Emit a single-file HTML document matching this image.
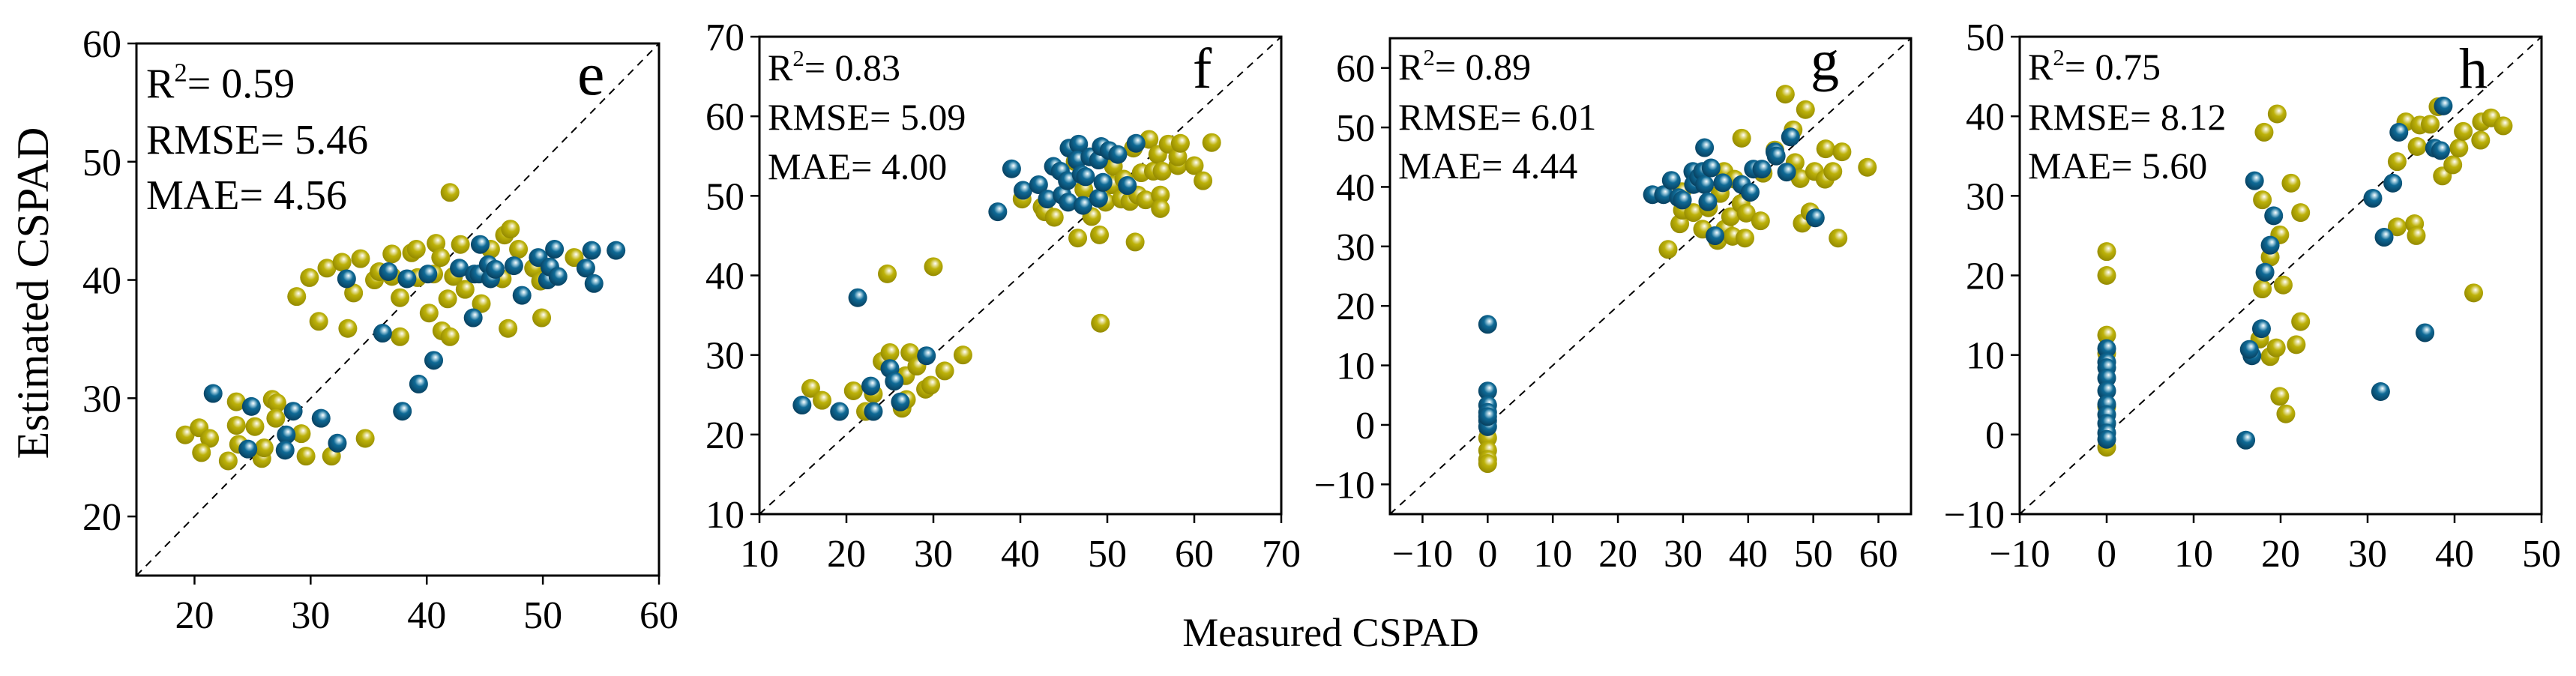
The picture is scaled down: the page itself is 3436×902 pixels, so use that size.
<!DOCTYPE html>
<html><head><meta charset="utf-8"><style>
html,body{margin:0;padding:0;background:#fff;}
svg{display:block;}
text,tspan{font-family:'Liberation Serif','Times New Roman',Times,serif !important;}
</style></head><body>
<svg id="chart" width="3436" height="902" viewBox="0 0 3436 902" xmlns="http://www.w3.org/2000/svg">
<defs>
<radialGradient id="gBlue" cx="0.55" cy="0.4" r="0.6" fx="0.6" fy="0.33">
<stop offset="0" stop-color="#ffffff"/><stop offset="0.18" stop-color="#9cc9dc"/><stop offset="0.45" stop-color="#0f6a96"/><stop offset="1" stop-color="#08405f"/></radialGradient>
<radialGradient id="gYel" cx="0.55" cy="0.4" r="0.6" fx="0.6" fy="0.33">
<stop offset="0" stop-color="#ffffff"/><stop offset="0.18" stop-color="#e6e09a"/><stop offset="0.45" stop-color="#bdb20a"/><stop offset="1" stop-color="#948a00"/></radialGradient>
</defs>
<text style="font-family:'Liberation Serif',serif" x="0" y="0" transform="translate(64,391) rotate(-90)" text-anchor="middle" font-size="60">Estimated CSPAD</text>
<text style="font-family:'Liberation Serif',serif" x="1775" y="862" text-anchor="middle" font-size="54">Measured CSPAD</text>
</svg>
<script>
const eBlueX=[21.6,24.9,24.6,27.9,27.8,28.5,30.9,32.3,33.1,36.2,36.7,38.3,37.9,39.3,40.6,40.1,42.8,44,44.1,44.6,44.5,45.3,45.5,45.9,47.5,48.2,49.6,50.4,50.6,51,51.3,53.7,54.2,54.4,56.3];
const eBlueY=[30.4,29.3,25.7,26.9,25.6,28.9,28.3,26.2,40.1,35.5,40.7,40.1,28.9,31.2,33.2,40.5,41.0,36.8,40.5,43.0,40.5,41.3,40.1,40.9,41.2,38.7,41.9,40,41.1,42.6,40.3,41,42.5,39.7,42.5];
const eYelX=[19.2,20.4,21.3,20.6,22.9,23.6,23.6,23.8,25.2,25.8,26,26.7,27.1,27,29.2,29.6,31.8,34.7,28.8,29.9,30.7,31.4,32.7,33.2,33.7,34.3,35.5,35.9,37,37,37.7,37.7,38.7,39.1,39.2,40.2,40.6,40.8,41.2,41.3,42,41.8,42,42.3,42.9,43.3,44.7,45.5,46.5,46.7,47.2,47,47.9,49.2,49.8,49.9,52.7];
const eYelY=[26.9,27.5,26.6,25.4,24.7,29.7,27.7,26.1,27.6,24.9,25.8,29.9,29.6,28.3,27,25.1,25.1,26.6,38.6,40.2,36.5,41,41.5,35.9,38.9,41.8,40,40.7,42.2,40.3,38.5,35.2,42.3,42.6,40.2,37.2,40.5,43.1,41.9,35.7,35.2,38.4,47.4,40.3,43,39.2,38,42.6,40.1,43.8,44.3,35.9,42.6,41,39.9,36.8,41.9];
const fBlueX=[14.9,19.2,21.3,22.8,23.1,25,25.5,26.2,29.2,37.4,39,40.3,42.1,43.1,43.8,44.6,44.8,45.4,45.5,45.6,46.7,46.5,47,47.2,47.5,48,49,49,49.3,49.5,50.2,51.2,52.3,53.3];
const fBlueY=[23.7,22.9,37.2,26.1,22.9,28.3,26.7,24.1,29.9,48,53.4,50.7,51.4,49.6,53.7,53.1,50.1,51.9,49.2,56,56.5,54.5,52.7,48.8,52.4,54.9,49.7,54.5,56.2,51.7,55.7,55.2,51.3,56.6];
const fYelX=[15.9,17.2,20.8,22.2,23.1,24.1,25,24.7,26.4,26.9,26.8,27.3,28.1,29.1,29.7,30,31.3,33.4,40.2,42.5,42.8,43.9,46.3,46.6,47.3,48.2,49.1,49.2,49.8,50.5,50.7,51.6,51.9,52.6,53,53.2,53.5,53.9,54.4,54.8,55.3,55.8,56.1,56.1,56.3,57,58.1,58.1,58.4,60,61,62];
const fYelY=[25.8,24.3,25.5,22.9,25.1,29.2,30.3,40.2,23.3,24.4,27.4,30.3,28.6,25.7,26.2,41.1,28,30,49.6,48.6,48,47.3,54.3,44.7,50.8,47.4,45.1,34,49.2,51.4,53.7,49.6,52.1,49.3,56,44.2,50.1,52.9,49.5,57.1,53.1,55.2,50.1,48.4,53.1,56.5,53.8,54.9,56.6,53.8,51.9,56.7];
const gBlueX=[0,0,0,0,0,0,0,25.3,27,28.2,29.3,29.9,31.5,31.6,32.4,33.3,33,33.3,33.8,34.3,34.9,36.1,39,40.3,40.8,42.1,44.1,44.3,45.9,46.5,50.3];
const gBlueY=[16.9,5.7,3.3,2.1,0.7,-0.3,1.4,38.7,38.7,41.1,38.2,37.8,42.6,40.4,41.6,46.6,42.6,40.4,37.5,43.2,31.8,40.7,40.4,39.1,43,43,45.9,45.2,42.5,48.4,34.8];
const gYelX=[0,0,0,0,27.7,29.5,29.8,29.9,31.6,33,33.9,35.3,35.7,36.3,36.4,37.3,37.6,37.9,38.9,39,39.5,39.7,41.9,42.3,44.1,45.7,47.2,46.9,48,48.3,48.8,49.5,50.2,51.8,51.9,53,53.8,54.4,58.3];
const gYelY=[-2.2,-4.3,-5.8,-6.5,29.5,33.8,39.2,36.1,35.7,32.9,36.5,31,38.9,42.6,32.9,35,31.7,41.3,37.2,48.2,31.4,35.6,34.3,42.3,46.2,55.6,44.1,49.6,41.4,33.9,53,35.8,42.6,41.3,46.4,42.6,31.4,45.9,43.3];
const hBlueX=[0,0,0,0,0,0,0,0,0,0,16,16.7,16.4,17,17.8,18.2,18.8,19.2,30.6,31.5,31.9,32.9,33.6,36.6,37.7,38.4,38.7];
const hBlueY=[10.8,9.1,8.4,7.1,5.5,3.8,2.5,1.4,0.2,-0.6,-0.7,9.9,10.7,31.9,13.3,20.4,23.8,27.5,29.7,5.4,24.8,31.6,38,12.8,36,35.7,41.3];
const hYelX=[0,0,0,0,0,0,17.6,17.9,17.9,18.1,18.8,18.8,19.5,19.6,19.9,19.9,20.3,20.6,21.2,21.8,22.3,22.3,33.4,33.4,34.4,35.4,35.6,35.7,36,37.2,38.1,38.6,39.8,40.5,41,42.2,43,43.1,44.2,45.6];
const hYelY=[23,20,12.5,10.2,3.5,-1.6,12,18.3,29.5,38,9.8,22.3,10.9,40.3,25.1,4.8,18.8,2.6,31.6,11.3,27.9,14.2,34.3,26.1,39.3,26.5,25,36.2,38.9,39,41.2,32.5,33.9,36,38.1,17.8,37,39.3,39.8,38.8];
const eTicks=[20,30,40,50,60];
const fTicks=[10,20,30,40,50,60,70];
const gTicks=[-10,0,10,20,30,40,50,60];
const hTicks=[-10,0,10,20,30,40,50];
const eStats=["0.59","5.46","4.56"];
const fStats=["0.83","5.09","4.00"];
const gStats=["0.89","6.01","4.44"];
const hStats=["0.75","8.12","5.60"];

const NS="http://www.w3.org/2000/svg";
const svg=document.getElementById('chart');
function mk(tag,attrs,parent){const el=document.createElementNS(NS,tag);for(const k in attrs)el.setAttribute(k,attrs[k]);if(tag==='text'||tag==='tspan')el.setAttribute('style',"font-family:'Liberation Serif','Times New Roman',serif");(parent||svg).appendChild(el);return el;}

const panels=[
 {id:'e',L:182,R:879,T:58,B:768,min:15,max:60,ticks:eTicks,stats:eStats,bx:eBlueX,by:eBlueY,yx:eYelX,yy:eYelY,sf:56,sl:[130,205,279],lf:82,lx:770,ly:126},
 {id:'f',L:1013,R:1709,T:49,B:686,min:10,max:70,ticks:fTicks,stats:fStats,bx:fBlueX,by:fBlueY,yx:fYelX,yy:fYelY,sf:50,sl:[107,173,239],lf:76,lx:1591,ly:117},
 {id:'g',L:1854,R:2549,T:51,B:686,min:-15,max:65,ticks:gTicks,stats:gStats,bx:gBlueX,by:gBlueY,yx:gYelX,yy:gYelY,sf:50,sl:[106,173,238],lf:76,lx:2415,ly:106},
 {id:'h',L:2694,R:3390,T:49,B:686,min:-10,max:50,ticks:hTicks,stats:hStats,bx:hBlueX,by:hBlueY,yx:hYelX,yy:hYelY,sf:50,sl:[106,173,238],lf:76,lx:3280,ly:117}
];

panels.forEach(p=>{
 const g=mk('g',{});
 
 
 const sx=v=>p.L+(v-p.min)/(p.max-p.min)*(p.R-p.L);
 const sy=v=>p.B-(v-p.min)/(p.max-p.min)*(p.B-p.T);
 const ln=mk('line',{x1:sx(p.min),y1:sy(p.min),x2:sx(p.max),y2:sy(p.max),stroke:'#000','stroke-width':2,'stroke-dasharray':'10,8'},g);
 
 
 const drawPts=(xs,ys,fill,name)=>{
  for(let i=0;i<xs.length;i++){
   const c=mk('circle',{cx:sx(xs[i]),cy:sy(ys[i]),r:12.5,fill:fill},g);
   
   
  }
 };
 drawPts(p.yx,p.yy,'url(#gYel)','validation-point');
 drawPts(p.bx,p.by,'url(#gBlue)','calibration-point');
 const fr=mk('rect',{x:p.L,y:p.T,width:p.R-p.L,height:p.B-p.T,fill:'none',stroke:'#000','stroke-width':3},g);
 
 
 p.ticks.forEach(t=>{
  const x=sx(t), y=sy(t);
  const lab=t<0?'\u2212'+Math.abs(t):String(t);
  if(x>=p.L-1&&x<=p.R+1){
   mk('line',{x1:x,y1:p.B,x2:x,y2:p.B+12,stroke:'#000','stroke-width':2.5},g);
   const tx=mk('text',{x:x,y:p.B+70,'text-anchor':'middle','font-size':52},g);
   tx.textContent=lab;
   
   
  }
  if(y>=p.T-1&&y<=p.B+1){
   mk('line',{x1:p.L,y1:y,x2:p.L-12,y2:y,stroke:'#000','stroke-width':2.5},g);
   const ty=mk('text',{x:p.L-20,y:y+18,'text-anchor':'end','font-size':52},g);
   ty.textContent=lab;
   
   
  }
 });
 const labels=['R','RMSE= ','MAE= '];
 for(let i=0;i<3;i++){
  const t=mk('text',{x:p.L+(p.id==='e'?13:11),y:p.sl[i],'font-size':p.sf},g);
  
  
  if(i===0){
   t.appendChild(document.createTextNode('R'));
   const s=mk('tspan',{'font-size':p.sf*0.62,dy:-p.sf*0.38},t);
   s.textContent='2';
   const s2=mk('tspan',{dy:p.sf*0.38},t);
   s2.textContent='= '+p.stats[0];
  } else {
   t.textContent=labels[i]+p.stats[i];
  }
 }
 const lt=mk('text',{x:p.lx,y:p.ly,'font-size':p.lf},g);
 lt.textContent=p.id;
 
 
});
</script>
</body></html>
